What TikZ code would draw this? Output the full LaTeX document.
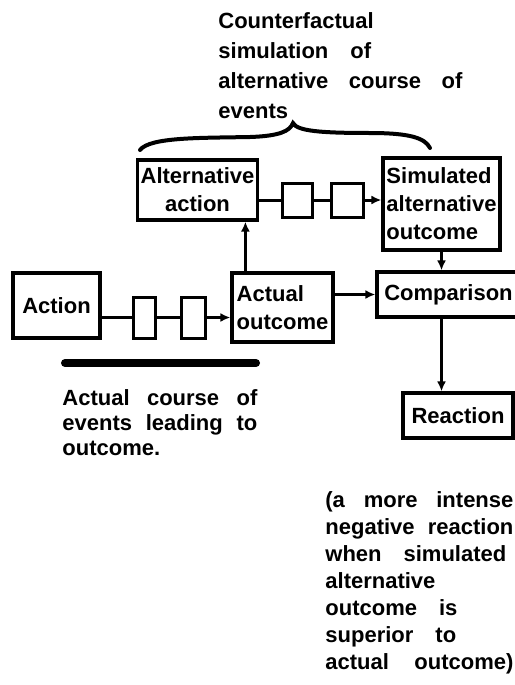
\documentclass[tikz,border=0pt]{standalone}
\usepackage{fontspec}
\setmainfont{Liberation Sans}
\usetikzlibrary{arrows.meta, positioning}

\begin{document}
\begin{tikzpicture}[x = 0.5pt, y = -0.5pt, node distance = 5pt and 8pt,
    font = \bfseries\fontsize{11}{14}\selectfont]
        \tikzstyle{box} = [draw, line width = 1.6pt, inner sep = 1.5pt, align = center]
        \tikzstyle{mini} = [draw, line width = 1.5pt, inner sep = 0pt]
        \tikzstyle{link} = [line width = 1.5pt]
        \tikzstyle{connect} = [-{Latex[length = 5pt, width = 4.5pt]}, line width = 1.5pt]
        \tikzstyle{note} = [anchor = north west, inner sep = 0pt, align = left]
        \useasboundingbox (0,0) rectangle (514,685);
        % upper row: simulated course of events
        \node[box, minimum width = 59.5pt, minimum height = 30pt] (alt) at (197.5,190) {Alternative\\action};
        \node[mini, minimum width = 15pt, minimum height = 17pt] (s1) at (297,200) {};
        \node[mini, minimum width = 16pt, minimum height = 17pt, right = 8pt of s1] (s2) {};
        \node[box, align = left, inner sep = 0.5pt, minimum width = 58.5pt, minimum height = 46pt] (sim) at (441.5,204) {Simulated\\alternative\\outcome};
        % lower row: actual course of events
        \node[box, minimum width = 43.5pt, minimum height = 32.5pt] (act) at (56.5,305.5) {Action};
        \node[mini, minimum width = 11pt, minimum height = 20.5pt] (s3) at (144,317.5) {};
        \node[mini, minimum width = 12pt, minimum height = 20.5pt, right = 11.5pt of s3] (s4) {};
        \node[box, align = left, minimum width = 50.5pt, minimum height = 34.5pt] (out) at (282.5,307.5) {Actual\\outcome};
        \node[box, minimum width = 71.5pt, minimum height = 22.5pt] (cmp) at (448.5,294.5) {Comparison};
        \node[box, minimum width = 55pt, minimum height = 22.5pt] (rea) at (458,415.5) {Reaction};
        % connectors
        \draw[link] (alt.east |- s1) -- (s1);
        \draw[link] (s1) -- (s2);
        \draw[connect] (s2) -- (s2 -| sim.west);
        \draw[connect] ([xshift = 7.5pt]out.north west) -- ([xshift = 7.5pt]out.north west |- alt.south);
        \draw[link] (act.east |- s3) -- (s3);
        \draw[link] (s3) -- (s4);
        \draw[connect] (s4) -- (s4 -| out.west);
        \draw[connect] (out.east |- cmp) -- (cmp.west);
        \draw[connect] (sim.south) -- (sim.south |- cmp.north);
        \draw[connect] (sim.south |- cmp.south) -- (sim.south |- rea.north);
        % brace and bar
        \draw[line width = 2pt, line cap = round] (140,150) .. controls (150,137) and (200,138) .. (250,137)
            .. controls (280,136) and (290,131) .. (293,123) .. controls (297,131) and (320,133) .. (370,133)
            .. controls (410,133) and (425,138) .. (430,148);
        \draw[line width = 4pt, line cap = round] (65,363) -- (256,363);
        % notes
        \node[note, text width = 122pt, font = \bfseries\fontsize{11}{15}\selectfont] (cf) at (218,12)
            {Counterfactual\\simulation\quad of\\alternative\hfill course\hfill of\\events};
        \node[note, text width = 97.5pt, font = \bfseries\fontsize{11}{12.5}\selectfont] (ac) at (62,389)
            {Actual\hfill course\hfill of\\events\hfill leading\hfill to\\outcome.};
        \node[note, text width = 94pt, font = \bfseries\fontsize{11}{13.5}\selectfont] (rx) at (325,491)
            {(a\hfill more\hfill intense\\negative\hfill reaction\\when\quad simulated\\alternative\\outcome\quad is\\superior\quad to\\actual\hfill outcome)};
\end{tikzpicture}
\end{document}
